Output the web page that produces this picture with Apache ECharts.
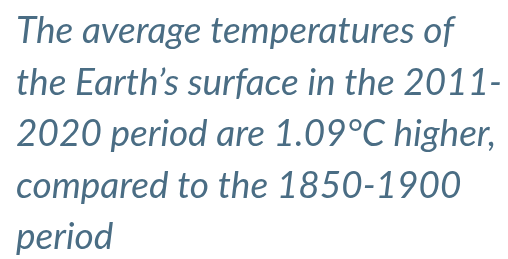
<!DOCTYPE html>
<html>
<head>
<meta charset="utf-8">
<script src="https://cdn.jsdelivr.net/npm/echarts@6/dist/echarts.min.js"></script>
<style>
  html, body { margin: 0; padding: 0; background: #fff; }
  #chart { width: 508px; height: 259px; }
</style>
</head>
<body>
<div id="chart"></div>
<script>
// quote text, one entry per line
const lines = [
  'The average temperatures of',
  'the Earth\u2019s surface in the 2011-',
  '2020 period are 1.09°C higher,',
  'compared to the 1850-1900',
  'period'
];

const chart = echarts.init(document.getElementById('chart'));

const option = {
  backgroundColor: '#fff',
  graphic: lines.map((line, i) => ({
    type: 'text',
    left: 16,
    top: 13 + i * 51.5,
    style: {
      text: line,
      fill: '#4a6d84',
      font: 'italic 37px Lato'
    }
  }))
};

chart.setOption(option);
</script>
</body>
</html>
